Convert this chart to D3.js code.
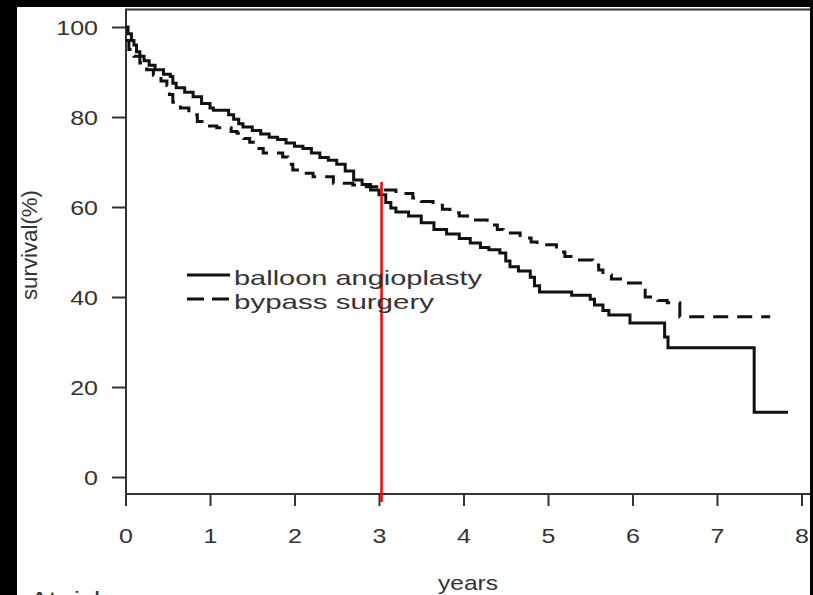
<!DOCTYPE html>
<html>
<head>
<meta charset="utf-8">
<script src="https://cdn.jsdelivr.net/npm/d3@7"></script>
<style>
  html, body { margin: 0; padding: 0; background: #000; }
  svg { display: block; }
  text { font-family: "Liberation Sans", Arial, Helvetica, sans-serif; fill: #333; }
</style>
</head>
<body>
<svg id="chart" width="813" height="595"></svg>
<script>
// Kaplan-Meier survival, balloon angioplasty (step times in years, survival in %)
const balloonTimes = [0, 0.03, 0.07, 0.10, 0.13, 0.17, 0.22, 0.28, 0.35, 0.45, 0.53, 0.56, 0.60, 0.70, 0.80, 0.90, 1.00, 1.04,
  1.22, 1.28, 1.34, 1.39, 1.50, 1.60, 1.70, 1.80, 1.90, 2.00, 2.10, 2.20, 2.30, 2.40, 2.50, 2.60, 2.70, 2.80, 2.90, 3.00,
  3.08, 3.14, 3.20, 3.35, 3.50, 3.65, 3.80, 3.95, 4.08, 4.20, 4.30, 4.43, 4.50, 4.55, 4.65, 4.79, 4.84, 4.90,
  5.28, 5.50, 5.55, 5.65, 5.72, 5.97, 6.38, 6.42, 7.44];
const balloonSurvival = [100, 98.5, 97, 96, 94.5, 93.5, 92.5, 91.5, 90.5, 89.5, 89, 87.5, 86.5, 85.5, 84.5, 83, 82, 81.5,
  80.5, 79.5, 78.5, 77.8, 77, 76.2, 75.5, 75, 74.2, 73.5, 73, 72, 71, 70.4, 69.5, 68, 66, 65, 63.8, 62.7,
  61, 59.8, 58.9, 58, 56.5, 55, 54, 53, 52, 51, 50.5, 49.8, 48, 46.7, 45.8, 44.4, 42.5, 41.1,
  40.4, 39.5, 38.2, 37, 36, 34.2, 31.1, 28.7, 14.4];
const balloonEnd = 7.84;

// Kaplan-Meier survival, bypass surgery
const bypassTimes = [0, 0.04, 0.10, 0.17, 0.25, 0.33, 0.42, 0.49, 0.52, 0.56, 0.65, 0.75, 0.85, 0.95, 1.08, 1.25, 1.32,
  1.40, 1.47, 1.55, 1.63, 1.86, 1.92, 1.98, 2.10, 2.22, 2.46, 2.69, 2.85, 3.05, 3.20, 3.40, 3.50, 3.64, 3.75, 3.84,
  3.95, 4.08, 4.28, 4.40, 4.47, 4.67, 4.80, 4.87, 5.10, 5.20, 5.30, 5.53, 5.60, 5.65, 5.75, 5.89, 6.15, 6.30, 6.41, 6.56];
const bypassSurvival = [97, 95, 93.5, 92, 90.5, 89.3, 88, 87, 85, 83.3, 82, 80.5, 79, 78, 77.6, 76.8, 76.4,
  75.2, 74.4, 73, 72, 71.1, 69.5, 68.2, 67.5, 66.7, 65.3, 64.9, 64.5, 63.8, 63, 62, 61.2, 60.4, 59.5, 58.7,
  58, 57.1, 56, 55, 54.2, 53.1, 52.2, 51.6, 50, 49, 48.2, 47.1, 46, 44.9, 44, 43.1, 40, 39.2, 38.7, 35.6];
const bypassEnd = 7.63;

// reference marker at 3 years
const markerYear = 3.03;

const xTicks = [0, 1, 2, 3, 4, 5, 6, 7, 8];
const yTicks = [0, 20, 40, 60, 80, 100];
const seriesNames = ["balloon angioplasty", "bypass surgery"];

const svg = d3.select("#chart");

// page background and white panel
svg.append("rect").attr("width", 813).attr("height", 595).attr("fill", "#000");
svg.append("rect").attr("x", 17).attr("y", 7).attr("width", 793).attr("height", 588).attr("fill", "#fff");

const x = d3.scaleLinear().domain([0, 8]).range([125.5, 801.5]);
const y = d3.scaleLinear().domain([0, 100]).range([477, 27]);

const boxLeft = 126, boxTop = 9.5, boxBottom = 494, panelRight = 810;
const stretch = 1.25;

// plot frame (left, top, bottom)
svg.append("path")
  .attr("d", `M${panelRight},${boxTop}H${boxLeft}V${boxBottom}H${panelRight}`)
  .attr("fill", "none").attr("stroke", "#333").attr("stroke-width", 2);

// y axis
const yAxis = svg.append("g")
  .attr("transform", `translate(${boxLeft},0)`)
  .call(d3.axisLeft(y).tickValues(yTicks).tickSize(14).tickFormat(d3.format("d")));
yAxis.select(".domain").remove();
yAxis.selectAll(".tick line").attr("stroke", "#333").attr("stroke-width", 2);
yAxis.selectAll(".tick text")
  .attr("x", null).attr("dy", null)
  .attr("transform", "translate(-28,7) scale(" + stretch + ",1)")
  .attr("text-anchor", "end")
  .style("font-size", "20px").style("font-family", null).attr("fill", "#333");

// x axis
const xAxis = svg.append("g")
  .attr("transform", `translate(0,${boxBottom})`)
  .call(d3.axisBottom(x).tickValues(xTicks).tickSize(12).tickFormat(d3.format("d")));
xAxis.select(".domain").remove();
xAxis.selectAll(".tick line").attr("stroke", "#333").attr("stroke-width", 2);
xAxis.selectAll(".tick text")
  .attr("y", null).attr("dy", null)
  .attr("transform", "translate(0,49) scale(" + stretch + ",1)")
  .attr("text-anchor", "middle")
  .style("font-size", "20px").style("font-family", null).attr("fill", "#333");

// axis titles
svg.append("text")
  .attr("x", 468).attr("y", 590)
  .attr("text-anchor", "middle")
  .attr("textLength", 60).attr("lengthAdjust", "spacingAndGlyphs")
  .style("font-size", "21px")
  .text("years");

svg.append("text")
  .attr("transform", "translate(37,245) rotate(-90)")
  .attr("text-anchor", "middle")
  .attr("textLength", 110).attr("lengthAdjust", "spacingAndGlyphs")
  .style("font-size", "22px")
  .text("survival(%)");

// start of the at-risk table, running off the bottom edge
svg.append("text")
  .attr("x", 30).attr("y", 606)
  .attr("textLength", 78).attr("lengthAdjust", "spacingAndGlyphs")
  .style("font-size", "21px")
  .text("At risk");

// survival curves
const line = d3.line()
  .x(d => x(d[0]))
  .y(d => y(d[1]))
  .curve(d3.curveStepAfter);

const balloonPts = balloonTimes.map((t, i) => [t, balloonSurvival[i]]);
balloonPts.push([balloonEnd, balloonSurvival[balloonSurvival.length - 1]]);
const bypassPts = bypassTimes.map((t, i) => [t, bypassSurvival[i]]);
bypassPts.push([bypassEnd, bypassSurvival[bypassSurvival.length - 1]]);

svg.append("path")
  .datum(bypassPts)
  .attr("d", line)
  .attr("fill", "none").attr("stroke", "#111").attr("stroke-width", 3)
  .attr("stroke-dasharray", "15,9");

svg.append("path")
  .datum(balloonPts)
  .attr("d", line)
  .attr("fill", "none").attr("stroke", "#111").attr("stroke-width", 3);

// vertical marker
svg.append("line")
  .attr("x1", x(markerYear)).attr("x2", x(markerYear))
  .attr("y1", 182).attr("y2", 502)
  .attr("stroke", "#f00").attr("stroke-width", 2.5);

// legend
const legend = svg.append("g");
const legendRows = [
  { name: seriesNames[0], dash: null, y: 275, len: 248 },
  { name: seriesNames[1], dash: "17,8", y: 299, len: 200 }
];
legendRows.forEach(r => {
  legend.append("line")
    .attr("x1", 187).attr("x2", 230).attr("y1", r.y).attr("y2", r.y)
    .attr("stroke", "#111").attr("stroke-width", 3)
    .attr("stroke-dasharray", r.dash);
  legend.append("text")
    .attr("x", 234).attr("y", r.y + 10)
    .attr("textLength", r.len).attr("lengthAdjust", "spacingAndGlyphs")
    .style("font-size", "21px")
    .text(r.name);
});
</script>
</body>
</html>
